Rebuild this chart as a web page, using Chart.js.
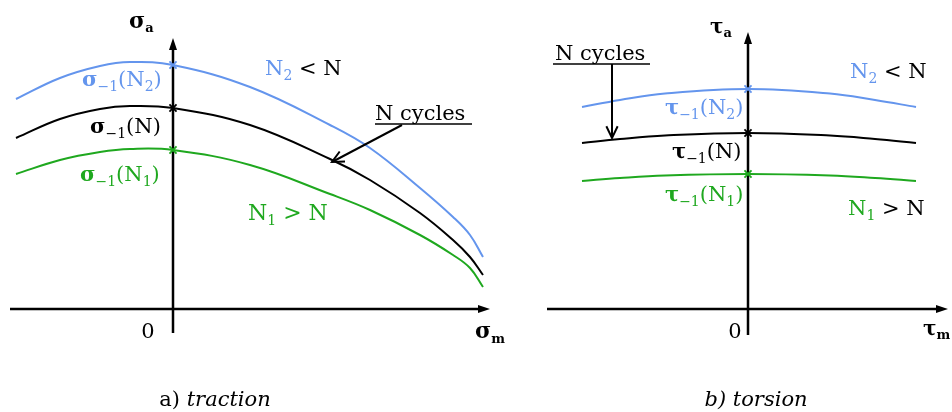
<!DOCTYPE html>
<html>
<head>
<meta charset="utf-8">
<script src="https://cdn.jsdelivr.net/npm/chart.js@4.4.1/dist/chart.umd.min.js"></script>
<style>
  html, body { margin: 0; padding: 0; background: #fff; }
  #wrap { position: relative; width: 952px; height: 412px; }
  canvas { position: absolute; top: 0; }
  #traction { left: 0; }
  #torsion { left: 540px; }
</style>
</head>
<body>
<div id="wrap">
  <canvas id="traction" width="540" height="412"></canvas>
  <canvas id="torsion" width="412" height="412"></canvas>
</div>
<script>
// a) traction : sigma_a en fonction de sigma_m
const tractionX     = [-1.57, -1.13, -0.73, -0.43, 0, 0.77, 1.57, 1.97, 2.47, 2.80, 2.97, 3.10];
const tractionN2    = [2.10, 2.31, 2.43, 2.47, 2.44, 2.22, 1.84, 1.61, 1.21, 0.92, 0.74, 0.52];
const tractionN     = [1.71, 1.90, 2.00, 2.03, 2.01, 1.84, 1.50, 1.29, 0.96, 0.69, 0.52, 0.34];
const tractionN1    = [1.35, 1.49, 1.57, 1.60, 1.59, 1.44, 1.15, 0.99, 0.74, 0.54, 0.41, 0.22];

// b) torsion : tau_a en fonction de tau_m
const torsionX      = [-1.66, -1.28, -0.83, 0, 0.82, 1.27, 1.68];
const torsionN2     = [2.02, 2.09, 2.155, 2.20, 2.155, 2.09, 2.02];
const torsionN      = [1.66, 1.70, 1.735, 1.76, 1.735, 1.70, 1.66];
const torsionN1     = [1.28, 1.31, 1.335, 1.35, 1.335, 1.31, 1.28];

const BLUE = "#6495ed";
const GREEN = "#1fa81f";
const BLACK = "#000000";
const SERIF = "'DejaVu Serif', 'Liberation Serif', serif";

function pts(xs, ys) {
    return xs.map((x, i) => ({ x: x, y: ys[i] }));
}

// point sur l'axe (x = 0)
function axisPoint(xs, ys) {
    const i = xs.indexOf(0);
    return [{ x: 0, y: ys[i] }];
}

function arrowHead(ctx, x, y, angle, len, half) {
    ctx.beginPath();
    ctx.moveTo(x, y);
    ctx.lineTo(x - len * Math.cos(angle) - half * Math.sin(angle), y - len * Math.sin(angle) + half * Math.cos(angle));
    ctx.lineTo(x - len * Math.cos(angle) + half * Math.sin(angle), y - len * Math.sin(angle) - half * Math.cos(angle));
    ctx.closePath();
    ctx.fill();
}

function openHead(ctx, x, y, angle) {
    const len = 13, a = 0.45;
    ctx.beginPath();
    ctx.moveTo(x - len * Math.cos(angle - a), y - len * Math.sin(angle - a));
    ctx.lineTo(x, y);
    ctx.lineTo(x - len * Math.cos(angle + a), y - len * Math.sin(angle + a));
    ctx.stroke();
}

function fontFor(p) {
    const size = p.size || (p.sub ? 14 : 21);
    return (p.it ? "italic " : "") + (p.b ? "bold " : "") + size + "px " + SERIF;
}

// texte avec indices
function drawRich(ctx, x, y, parts, center) {
    let w = 0;
    parts.forEach(p => { ctx.font = fontFor(p); w += ctx.measureText(p.t).width; });
    let cx = center ? x - w / 2 : x;
    ctx.textBaseline = "alphabetic";
    ctx.textAlign = "left";
    parts.forEach(p => {
        ctx.font = fontFor(p);
        ctx.fillStyle = p.c || BLACK;
        ctx.fillText(p.t, cx, y + (p.sub ? (p.dy || 5) : 0));
        cx += ctx.measureText(p.t).width;
    });
}

function makeDiagram(spec) {
    return {
        id: "diagram",
        beforeDatasetsDraw(chart) {
            const ctx = chart.ctx;
            const X = v => chart.scales.x.getPixelForValue(v);
            const Y = v => chart.scales.y.getPixelForValue(v);
            ctx.save();
            ctx.strokeStyle = BLACK;
            ctx.fillStyle = BLACK;
            ctx.lineWidth = 2.5;
            ctx.beginPath();
            ctx.moveTo(X(spec.xAxis[0]), Y(0));
            ctx.lineTo(X(spec.xAxis[1]) - 8, Y(0));
            ctx.moveTo(X(0), Y(spec.yAxis[0]));
            ctx.lineTo(X(0), Y(spec.yAxis[1]) + 8);
            ctx.stroke();
            arrowHead(ctx, X(spec.xAxis[1]), Y(0), 0, 12, 4);
            arrowHead(ctx, X(0), Y(spec.yAxis[1]), -Math.PI / 2, 12, 4);
            ctx.restore();
        },
        afterDatasetsDraw(chart) {
            const ctx = chart.ctx;
            const X = v => chart.scales.x.getPixelForValue(v);
            const Y = v => chart.scales.y.getPixelForValue(v);
            ctx.save();
            // renvoi "N cycles"
            ctx.strokeStyle = BLACK;
            ctx.lineWidth = 1.6;
            ctx.beginPath();
            ctx.moveTo(X(spec.underline[0]), Y(spec.underline[2]));
            ctx.lineTo(X(spec.underline[1]), Y(spec.underline[2]));
            ctx.stroke();
            const a0 = spec.arrow[0], a1 = spec.arrow[1];
            const x0 = X(a0[0]), y0 = Y(a0[1]), x1 = X(a1[0]), y1 = Y(a1[1]);
            ctx.lineWidth = 2;
            ctx.beginPath();
            ctx.moveTo(x0, y0);
            ctx.lineTo(x1, y1);
            ctx.stroke();
            openHead(ctx, x1, y1, Math.atan2(y1 - y0, x1 - x0));
            spec.labels.forEach(l => drawRich(ctx, X(l.x), l.py, l.parts, l.center));
            ctx.restore();
        }
    };
}

function curve(label, xs, ys, color) {
    return {
        label: label,
        data: pts(xs, ys),
        borderColor: color,
        borderWidth: 2,
        pointRadius: 0,
        tension: 0.4,
        fill: false
    };
}

function marker(xs, ys, color) {
    return {
        type: "scatter",
        data: axisPoint(xs, ys),
        pointStyle: "crossRot",
        pointRadius: 5,
        borderColor: color,
        borderWidth: 1.8,
        backgroundColor: color
    };
}

function build(id, xs, n2, n, n1, xMin, xMax, spec) {
    new Chart(document.getElementById(id), {
        type: "line",
        data: {
            datasets: [
                curve("N2", xs, n2, BLUE),
                curve("N", xs, n, BLACK),
                curve("N1", xs, n1, GREEN),
                marker(xs, n2, BLUE),
                marker(xs, n, BLACK),
                marker(xs, n1, GREEN)
            ]
        },
        options: {
            responsive: false,
            animation: false,
            devicePixelRatio: 1,
            layout: { padding: 0, autoPadding: false },
            plugins: { legend: { display: false }, tooltip: { enabled: false } },
            scales: {
                x: { type: "linear", min: xMin, max: xMax, display: false },
                y: { type: "linear", min: -1.03, max: 3.09, display: false }
            }
        },
        plugins: [makeDiagram(spec)]
    });
}

const sub = (t, c, extra) => Object.assign({ t: t, c: c, sub: true }, extra || {});

build("traction", tractionX, tractionN2, tractionN, tractionN1, -1.73, 3.67, {
    xAxis: [-1.63, 3.17],
    yAxis: [-0.24, 2.71],
    underline: [2.02, 2.99, 1.85],
    arrow: [[2.29, 1.84], [1.59, 1.47]],
    labels: [
        { x: -0.44, py: 28, parts: [{ t: "σ", b: true, size: 22 }, sub("a", BLACK, { b: true, size: 13, dy: 4 })] },
        { x: 0.92, py: 75, parts: [{ t: "N", c: BLUE }, sub("2", BLUE), { t: " < N" }] },
        { x: -0.91, py: 86, parts: [{ t: "σ", c: BLUE, b: true }, sub("−1", BLUE), { t: "(N", c: BLUE }, sub("2", BLUE), { t: ")", c: BLUE }] },
        { x: -0.83, py: 133, parts: [{ t: "σ", b: true }, sub("−1"), { t: "(N)" }] },
        { x: -0.93, py: 181, parts: [{ t: "σ", c: GREEN, b: true }, sub("−1", GREEN), { t: "(N", c: GREEN }, sub("1", GREEN), { t: ")", c: GREEN }] },
        { x: 0.75, py: 220, parts: [{ t: "N", c: GREEN, size: 22 }, sub("1", GREEN), { t: " > N", c: GREEN, size: 22 }] },
        { x: 2.02, py: 120, parts: [{ t: "N cycles" }] },
        { x: -0.25, py: 338, center: true, parts: [{ t: "0" }] },
        { x: 3.02, py: 338, parts: [{ t: "σ", b: true, size: 22 }, sub("m", BLACK, { b: true, size: 13, dy: 5 })] },
        { x: 0.42, py: 406, center: true, parts: [{ t: "a) " }, { t: "traction", it: true }] }
    ]
});

build("torsion", torsionX, torsionN2, torsionN, torsionN1, -2.08, 2.04, {
    xAxis: [-2.01, 2.00],
    yAxis: [-0.26, 2.77],
    underline: [-1.95, -0.98, 2.45],
    arrow: [[-1.36, 2.45], [-1.36, 1.71]],
    labels: [
        { x: -0.38, py: 33, parts: [{ t: "τ", b: true, size: 20 }, sub("a", BLACK, { b: true, size: 13, dy: 4 })] },
        { x: 1.02, py: 78, parts: [{ t: "N", c: BLUE }, sub("2", BLUE), { t: " < N" }] },
        { x: -0.83, py: 114, parts: [{ t: "τ", c: BLUE, b: true }, sub("−1", BLUE), { t: "(N", c: BLUE }, sub("2", BLUE), { t: ")", c: BLUE }] },
        { x: -0.76, py: 158, parts: [{ t: "τ", b: true }, sub("−1"), { t: "(N)" }] },
        { x: -0.83, py: 201, parts: [{ t: "τ", c: GREEN, b: true }, sub("−1", GREEN), { t: "(N", c: GREEN }, sub("1", GREEN), { t: ")", c: GREEN }] },
        { x: 1.00, py: 215, parts: [{ t: "N", c: GREEN }, sub("1", GREEN), { t: " > N" }] },
        { x: -1.93, py: 60, parts: [{ t: "N cycles" }] },
        { x: -0.13, py: 338, center: true, parts: [{ t: "0" }] },
        { x: 1.75, py: 335, parts: [{ t: "τ", b: true, size: 20 }, sub("m", BLACK, { b: true, size: 13, dy: 4 })] },
        { x: 0.08, py: 406, center: true, parts: [{ t: "b) ", it: true }, { t: "torsion", it: true }] }
    ]
});
</script>
</body>
</html>
